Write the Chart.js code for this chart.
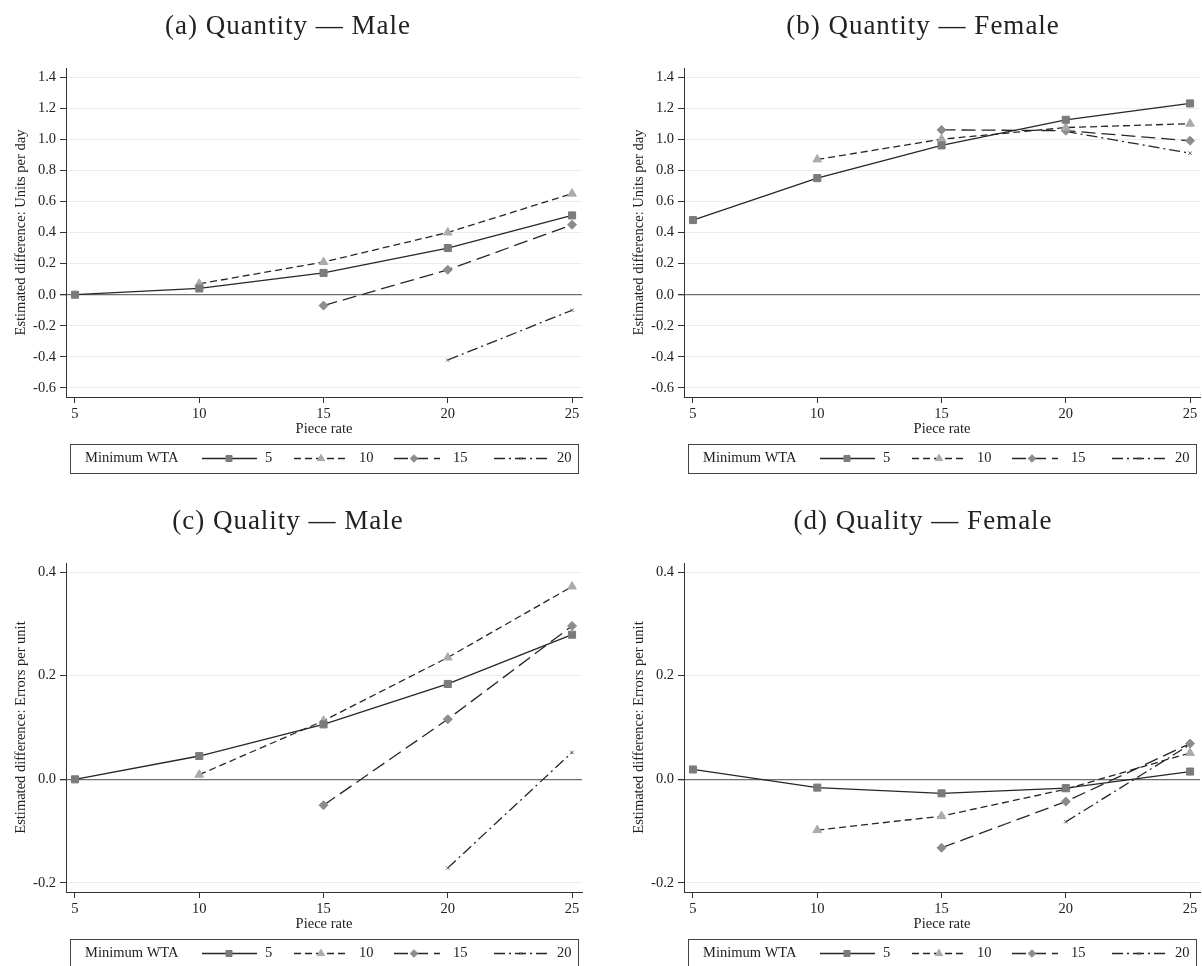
<!DOCTYPE html>
<html>
<head>
<meta charset="utf-8">
<script src="https://cdn.jsdelivr.net/npm/chart.js@4.4.0/dist/chart.umd.min.js"></script>
<style>
  html, body { margin: 0; padding: 0; background: #fff; overflow: hidden; width: 1202px; height: 966px; }
  canvas { position: absolute; }
</style>
</head>
<body>
<canvas id="chartA" width="600" height="490" style="left:0;top:0"></canvas>
<canvas id="chartB" width="600" height="490" style="left:618px;top:0"></canvas>
<canvas id="chartC" width="600" height="490" style="left:0;top:495px"></canvas>
<canvas id="chartD" width="600" height="490" style="left:618px;top:495px"></canvas>
<script>
// piece rates on the x axis and minimum WTA groups
const pieceRate = [5, 10, 15, 20, 25];
const wtaLevels = ['5', '10', '15', '20'];

// (a) quantity, male
const qtyMale5  = [0.00, 0.04, 0.14, 0.30, 0.51];
const qtyMale10 = [null, 0.07, 0.21, 0.40, 0.65];
const qtyMale15 = [null, null, -0.07, 0.16, 0.45];
const qtyMale20 = [null, null, null, -0.42, -0.10];

// (b) quantity, female
const qtyFemale5  = [0.48, 0.75, 0.96, 1.125, 1.23];
const qtyFemale10 = [null, 0.87, 1.00, 1.075, 1.10];
const qtyFemale15 = [null, null, 1.06, 1.055, 0.99];
const qtyFemale20 = [null, null, null, 1.05, 0.91];

// (c) quality, male
const qualMale5  = [0.000, 0.045, 0.106, 0.184, 0.279];
const qualMale10 = [null, 0.009, 0.113, 0.235, 0.372];
const qualMale15 = [null, null, -0.050, 0.116, 0.296];
const qualMale20 = [null, null, null, -0.171, 0.052];

// (d) quality, female
const qualFemale5  = [0.019, -0.016, -0.027, -0.017, 0.015];
const qualFemale10 = [null, -0.098, -0.071, -0.019, 0.051];
const qualFemale15 = [null, null, -0.132, -0.043, 0.069];
const qualFemale20 = [null, null, null, -0.082, 0.067];

// tick labels
const qtyTicks  = [-0.6, -0.4, -0.2, 0.0, 0.2, 0.4, 0.6, 0.8, 1.0, 1.2, 1.4];
const qualTicks = [-0.2, 0.0, 0.2, 0.4];

const serif = "'Liberation Serif', 'Times New Roman', serif";

// line / marker look for each WTA group
const styles = [
  { dash: [], point: 'rect', r: 5, color: '#7b7b7b' },
  { dash: [7, 4], point: 'triangle', r: 5, color: '#ababab' },
  { dash: [14, 6], point: 'rectRot', r: 4.5, color: '#8c8c8c' },
  { dash: [11, 4, 2, 4], point: 'crossRot', r: 2.5, color: '#666' }
];

// legend sample positions inside each panel
const legendSlots = [
  { x0: 202, x1: 257, mx: 229, lx: 265 },
  { x0: 294, x1: 348, mx: 321, lx: 359 },
  { x0: 394, x1: 440, mx: 414, lx: 453 },
  { x0: 494, x1: 550, mx: 521, lx: 557 }
];

const panelDecor = {
  id: 'panelDecor',
  afterDraw(chart, args, opts) {
    const ctx = chart.ctx;
    ctx.save();
    // panel title
    ctx.fillStyle = '#222';
    ctx.font = "27px " + serif;
    ctx.letterSpacing = '1px';
    ctx.textAlign = 'center';
    ctx.textBaseline = 'middle';
    ctx.fillText(opts.title, opts.titleX, opts.titleY);
    ctx.letterSpacing = '0px';

    // legend box
    const top = 444, h = 29, cy = top + h / 2;
    ctx.strokeStyle = '#444';
    ctx.lineWidth = 1;
    ctx.strokeRect(70.5, top + 0.5, 508, h);
    ctx.font = "14.5px " + serif;
    ctx.textAlign = 'left';
    ctx.fillStyle = '#222';
    ctx.fillText('Minimum WTA', 85, cy);
    chart.data.datasets.forEach((ds, i) => {
      const s = legendSlots[i];
      ctx.save();
      ctx.strokeStyle = ds.borderColor;
      ctx.lineWidth = ds.borderWidth;
      ctx.setLineDash(ds.borderDash);
      ctx.beginPath();
      ctx.moveTo(s.x0, cy);
      ctx.lineTo(s.x1, cy);
      ctx.stroke();
      ctx.restore();
      ctx.save();
      ctx.fillStyle = ds.pointBackgroundColor;
      ctx.strokeStyle = ds.pointBorderColor;
      ctx.lineWidth = ds.pointBorderWidth;
      Chart.helpers.drawPoint(ctx, { pointStyle: ds.pointStyle, radius: ds.pointRadius * 0.85, rotation: 0, borderWidth: 1 }, s.mx, cy);
      ctx.restore();
      ctx.fillStyle = '#222';
      ctx.fillText(wtaLevels[i], s.lx, cy);
    });
    ctx.restore();
  }
};

function makePanel(id, title, titleX, yTitle, series, yTicks, yMin, yMax) {
  const datasets = series.map((vals, i) => ({
    label: wtaLevels[i],
    data: pieceRate.map((x, j) => ({ x: x, y: vals[j] })),
    borderColor: '#262626',
    borderWidth: 1.3,
    borderDash: styles[i].dash,
    pointStyle: styles[i].point,
    pointRadius: styles[i].r,
    pointBackgroundColor: styles[i].color,
    pointBorderColor: styles[i].color,
    pointBorderWidth: 1,
    tension: 0,
    fill: false
  }));

  return new Chart(document.getElementById(id), {
    type: 'line',
    data: { datasets: datasets },
    plugins: [panelDecor],
    options: {
      responsive: false,
      animation: false,
      devicePixelRatio: 1,
      layout: { padding: { left: 0, top: 68, right: 18, bottom: 52 } },
      plugins: {
        legend: { display: false },
        tooltip: { enabled: false },
        panelDecor: { title: title, titleX: titleX, titleY: 27 }
      },
      scales: {
        x: {
          type: 'linear',
          min: 4.638,
          max: 25.4,
          afterBuildTicks: s => { s.ticks = pieceRate.map(v => ({ value: v })); },
          afterFit: s => { s.height = 41; },
          border: { color: '#333', width: 1 },
          grid: { drawOnChartArea: false, tickColor: '#333', tickLength: 6 },
          ticks: { color: '#222', padding: 2, font: { family: serif, size: 14.5 } },
          title: { display: true, text: 'Piece rate', color: '#222', padding: 0, font: { family: serif, size: 14.5 } }
        },
        y: {
          min: yMin,
          max: yMax,
          afterBuildTicks: s => { s.ticks = yTicks.map(v => ({ value: v })); },
          afterFit: s => { s.width = 66; },
          border: { color: '#333', width: 1 },
          grid: {
            color: c => (c.tick && c.tick.value === 0) ? '#6e6e6e' : '#ececec',
            lineWidth: c => (c.tick && c.tick.value === 0) ? 1.3 : 1,
            tickColor: '#333',
            tickLength: 6
          },
          ticks: { color: '#222', padding: 4, font: { family: serif, size: 14.5 }, callback: v => v.toFixed(1) },
          title: { display: true, text: yTitle, color: '#222', padding: { top: 12, bottom: 0 }, font: { family: serif, size: 14.5 } }
        }
      }
    }
  });
}

makePanel('chartA', '(a) Quantity — Male', 288, 'Estimated difference: Units per day',
  [qtyMale5, qtyMale10, qtyMale15, qtyMale20], qtyTicks, -0.658, 1.458);
makePanel('chartB', '(b) Quantity — Female', 305, 'Estimated difference: Units per day',
  [qtyFemale5, qtyFemale10, qtyFemale15, qtyFemale20], qtyTicks, -0.658, 1.458);
makePanel('chartC', '(c) Quality — Male', 288, 'Estimated difference: Errors per unit',
  [qualMale5, qualMale10, qualMale15, qualMale20], qualTicks, -0.2174, 0.4174);
makePanel('chartD', '(d) Quality — Female', 305, 'Estimated difference: Errors per unit',
  [qualFemale5, qualFemale10, qualFemale15, qualFemale20], qualTicks, -0.2174, 0.4174);
</script>
</body>
</html>
